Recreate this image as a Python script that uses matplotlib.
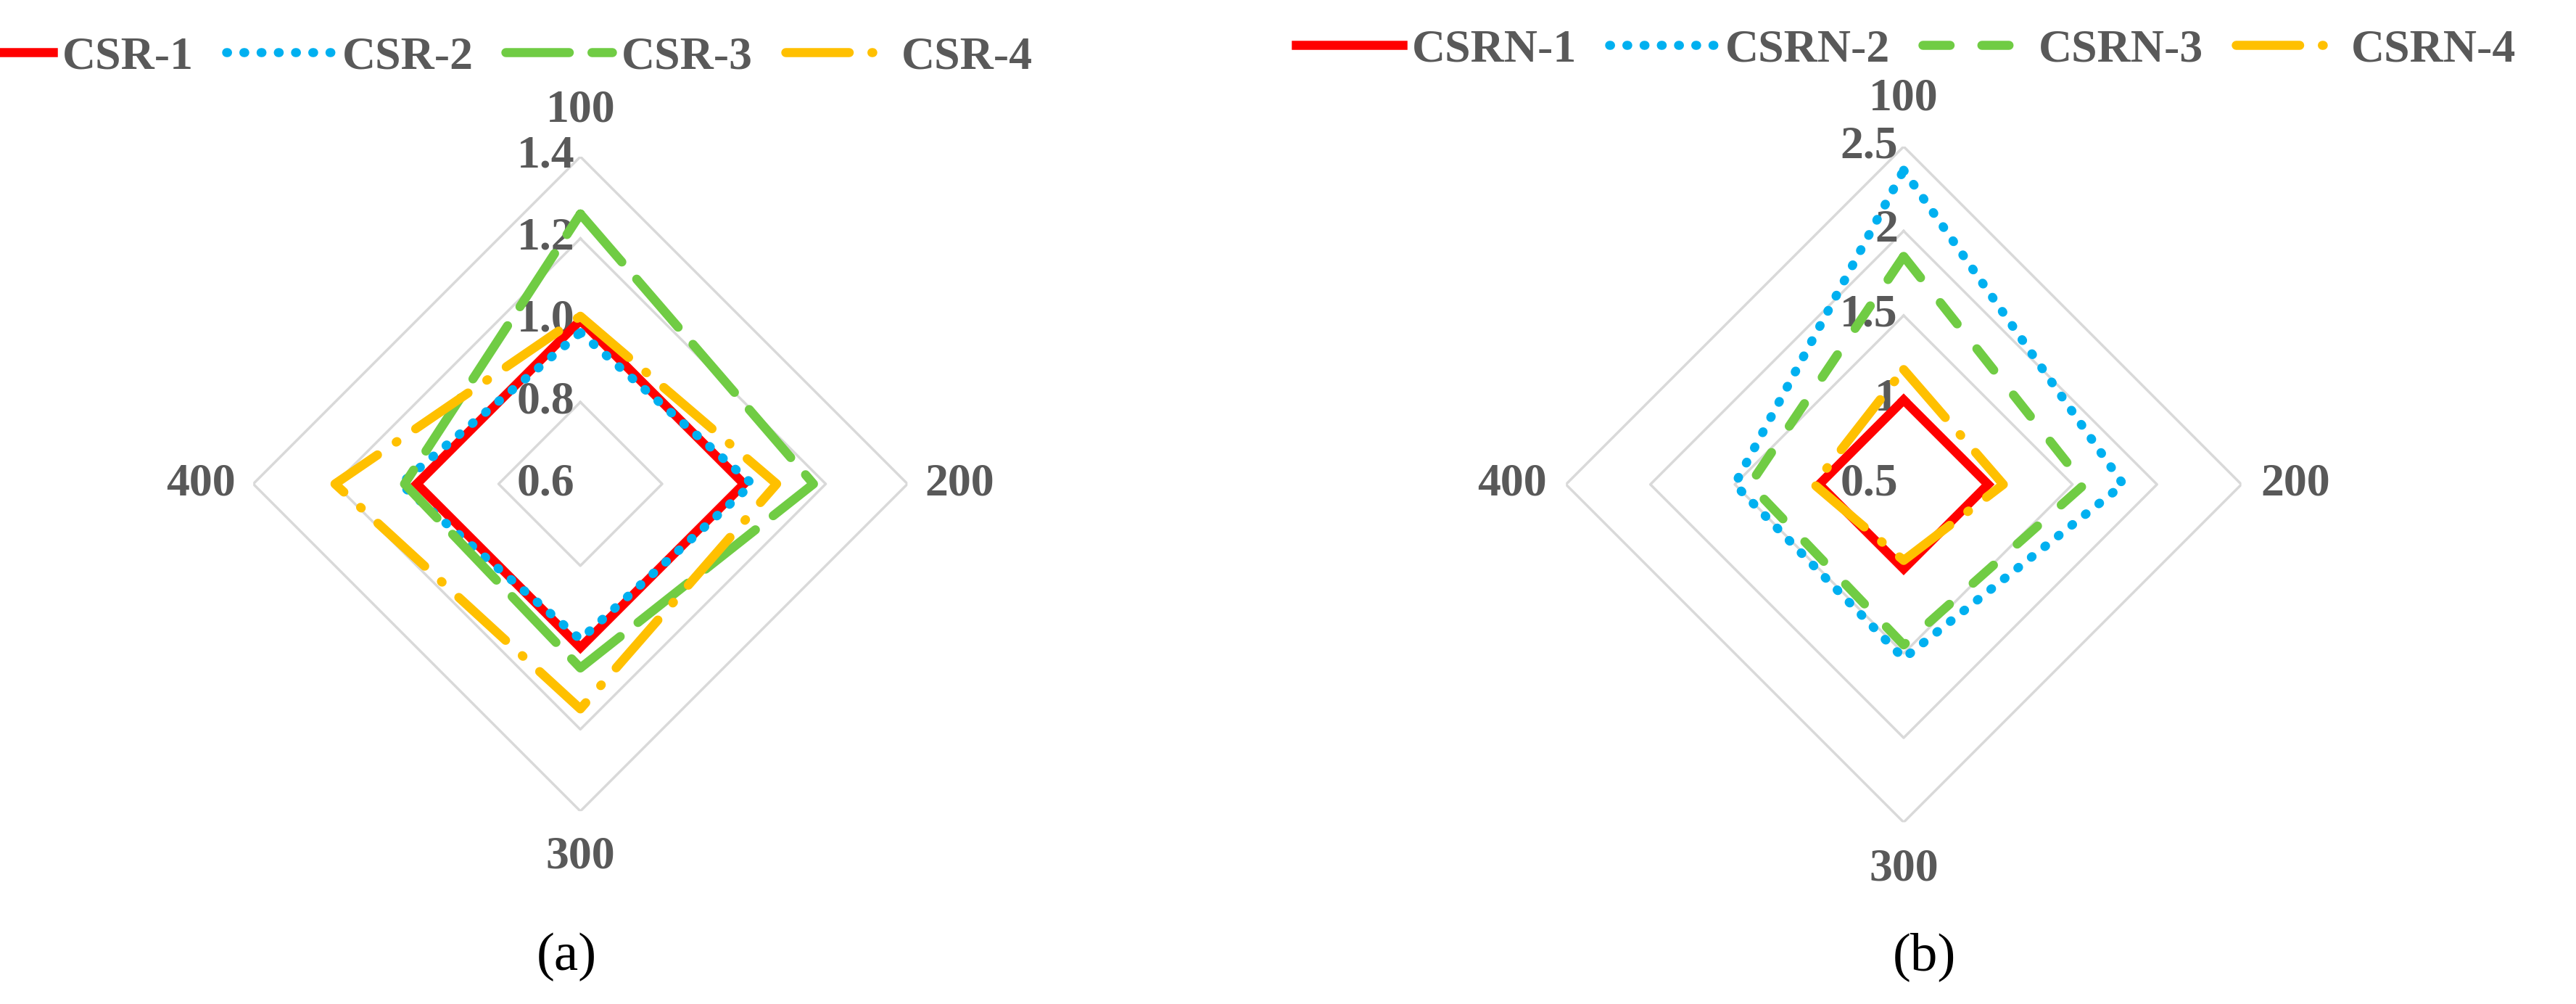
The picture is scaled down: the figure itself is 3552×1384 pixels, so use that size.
import numpy as np
import matplotlib.pyplot as plt
from matplotlib.transforms import ScaledTranslation

categories = ["100", "200", "300", "400"]

csr_names = ["CSR-1", "CSR-2", "CSR-3", "CSR-4"]
csr_values = [
    [1.00, 1.00, 1.00, 1.00],
    [0.97, 1.02, 0.98, 1.04],
    [1.26, 1.17, 1.05, 1.03],
    [1.01, 1.08, 1.15, 1.20],
]
csr_ticks = [0.6, 0.8, 1.0, 1.2, 1.4]
csr_ticklabels = ["0.6", "0.8", "1.0", "1.2", "1.4"]

csrn_names = ["CSRN-1", "CSRN-2", "CSRN-3", "CSRN-4"]
csrn_values = [
    [1.00, 1.00, 1.00, 1.00],
    [2.36, 1.80, 1.53, 1.50],
    [1.85, 1.57, 1.45, 1.41],
    [1.18, 1.09, 0.95, 1.03],
]
csrn_ticks = [0.5, 1.0, 1.5, 2.0, 2.5]
csrn_ticklabels = ["0.5", "1", "1.5", "2", "2.5"]

colors = ["#FF0000", "#00B0F0", "#70CC44", "#FFC000"]
txt = "#595959"
font = dict(family="Liberation Serif", weight="bold", color=txt)

fig = plt.figure(figsize=(35.52, 13.84), dpi=100)

theta = np.linspace(0, 2 * np.pi, len(categories), endpoint=False)
theta_c = np.append(theta, theta[0])


def radar(rect, names, values, ticks, ticklabels, dash3, legend_box, caption, capx):
    ax = fig.add_axes(rect, projection="polar")
    ax.set_theta_offset(np.pi / 2)
    ax.set_theta_direction(-1)
    ax.set_ylim(ticks[0], ticks[-1])
    ax.grid(False)
    ax.spines["polar"].set_visible(False)
    ax.set_xticks([])
    ax.set_yticks([])
    ax.patch.set_alpha(0)
    for t in ticks[1:]:
        ax.plot(theta_c, [t] * len(theta_c), color="#D9D9D9", lw=2.5, zorder=1)
    off = ax.transData + ScaledTranslation(-0.08, 0, fig.dpi_scale_trans)
    for t, lab in zip(ticks, ticklabels):
        ax.text(0, t, lab, ha="right", va="center", fontsize=46, zorder=1,
                transform=off, **font)
    styles = ["-", (0, (0.1, 1.8)), dash3, (0, (7, 2.5, 0.1, 2.5))]
    for i, (name, vals) in enumerate(zip(names, values)):
        ax.plot(theta_c, vals + vals[:1], color=colors[i], lw=9, linestyle=styles[i],
                dash_capstyle="round", solid_joinstyle="miter", label=name, zorder=3)
    span = ticks[-1] - ticks[0]
    for th, cat in zip(theta, categories):
        r = ticks[-1] + span * (0.14 if th in (0, np.pi) else 0.16)
        ax.text(th, r, cat, ha="center", va="center", fontsize=46, **font)
    leg = ax.legend(loc="center", bbox_to_anchor=legend_box, bbox_transform=fig.transFigure,
                    ncol=4, frameon=False, handlelength=2.3, columnspacing=0.7,
                    handletextpad=0.2, prop=dict(family="Liberation Serif", weight="bold", size=46))
    for t in leg.get_texts():
        t.set_color(txt)
    fig.text(capx, 0.047, caption, ha="center", va="center", fontsize=54,
             family="Liberation Serif", color="black")


radar([0.0983, 0.192, 0.254, 0.652], csr_names, csr_values, csr_ticks, csr_ticklabels,
      (0, (7, 2.5)), (0.19, 0.943), "(a)", 0.22)
radar([0.6078, 0.181, 0.2624, 0.673], csrn_names, csrn_values, csrn_ticks, csrn_ticklabels,
      (0, (3, 3.5)), (0.74, 0.95), "(b)", 0.747)

fig.savefig("out.png", dpi=100)
